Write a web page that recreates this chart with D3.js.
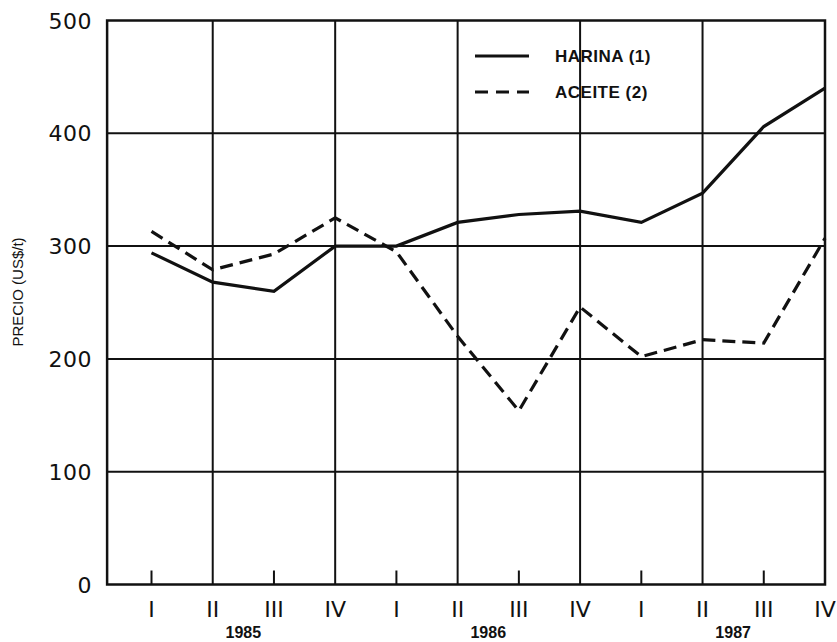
<!DOCTYPE html>
<html>
<head>
<meta charset="utf-8">
<script src="https://cdn.jsdelivr.net/npm/d3@7"></script>
<style>
  html, body { margin: 0; padding: 0; background: #fff; }
  svg { display: block; }
</style>
</head>
<body>
<svg id="chart" width="837" height="642"></svg>
<script>
// ---- data ----
const quarters = ["I", "II", "III", "IV", "I", "II", "III", "IV", "I", "II", "III", "IV"];
const years = ["1985", "1986", "1987"];
const harina = [294, 268, 260, 300, 300, 321, 328, 331, 321, 347, 406, 440];
const aceite = [313, 279, 293, 325, 295, 220, 154, 246, 202, 217, 214, 307];
const yTicks = [0, 100, 200, 300, 400, 500];
const seriesNames = ["HARINA (1)", "ACEITE (2)"];

// ---- layout ----
const svg = d3.select("#chart");
const x = d3.scaleLinear().domain([0, 11]).range([151.5, 825]);
const y = d3.scaleLinear().domain([0, 500]).range([584.5, 20.5]);
const pLeft = x(-0.725), pRight = x(11), pTop = y(500), pBottom = y(0);
const ink = "#111";

// horizontal grid lines
svg.append("g").selectAll("line").data(yTicks.filter(v => v > 0 && v < 500)).join("line")
  .attr("x1", pLeft).attr("x2", pRight).attr("y1", d => y(d)).attr("y2", d => y(d))
  .attr("stroke", ink).attr("stroke-width", 2);

// vertical grid lines at II and IV quarters
svg.append("g").selectAll("line").data(quarters.map((q, i) => i).filter(i => i % 2 === 1 && i < 11)).join("line")
  .attr("x1", d => x(d)).attr("x2", d => x(d)).attr("y1", pTop).attr("y2", pBottom)
  .attr("stroke", ink).attr("stroke-width", 2);

// small ticks at I and III quarters
svg.append("g").selectAll("line").data(quarters.map((q, i) => i).filter(i => i % 2 === 0)).join("line")
  .attr("x1", d => x(d)).attr("x2", d => x(d)).attr("y1", pBottom - 14).attr("y2", pBottom)
  .attr("stroke", ink).attr("stroke-width", 2);

// frame
svg.append("path")
  .attr("d", `M${pLeft},${pBottom}V${pTop}H${pRight}V${pBottom}H${pLeft}Z`)
  .attr("fill", "none").attr("stroke", ink).attr("stroke-width", 2.5);

// y tick labels
svg.append("g").selectAll("text").data(yTicks).join("text")
  .attr("x", 92).attr("y", d => y(d) + 8)
  .attr("text-anchor", "end")
  .attr("font-family", "DejaVu Sans, sans-serif").attr("font-size", 22)
  .attr("letter-spacing", 0.5)
  .attr("fill", ink)
  .text(d => d);

// y title
svg.append("text")
  .attr("transform", `translate(23,292) rotate(-90)`)
  .attr("text-anchor", "middle")
  .attr("font-family", "Liberation Sans, Arial, sans-serif").attr("font-size", 15)
  .attr("fill", ink)
  .text("PRECIO (US$/t)");

// x quarter labels
svg.append("g").selectAll("text").data(quarters).join("text")
  .attr("x", (d, i) => x(i)).attr("y", 617)
  .attr("text-anchor", "middle")
  .attr("font-family", "DejaVu Sans, sans-serif").attr("font-size", 22)
  .attr("fill", ink)
  .text(d => d);

// year labels (centred between II and III of each year)
svg.append("g").selectAll("text").data(years).join("text")
  .attr("x", (d, i) => x(i * 4 + 1.5)).attr("y", 638)
  .attr("text-anchor", "middle")
  .attr("font-family", "Liberation Sans, Arial, sans-serif").attr("font-size", 16)
  .attr("font-weight", "bold")
  .attr("fill", ink)
  .text(d => d);

// lines
const line = d3.line().x((d, i) => x(i)).y(d => y(d));
svg.append("path").datum(harina).attr("d", line)
  .attr("fill", "none").attr("stroke", ink).attr("stroke-width", 3.2)
  .attr("stroke-linejoin", "miter");
svg.append("path").datum(aceite).attr("d", line)
  .attr("fill", "none").attr("stroke", ink).attr("stroke-width", 3.2)
  .attr("stroke-dasharray", "13,7");

// legend
const legend = svg.append("g");
const legY = [56, 92];
legend.selectAll("line").data(seriesNames).join("line")
  .attr("x1", 475).attr("x2", 529).attr("y1", (d, i) => legY[i]).attr("y2", (d, i) => legY[i])
  .attr("stroke", ink).attr("stroke-width", 3.2)
  .attr("stroke-dasharray", (d, i) => i === 1 ? "13,8" : null);
legend.selectAll("text").data(seriesNames).join("text")
  .attr("x", 555).attr("y", (d, i) => legY[i] + 6)
  .attr("font-family", "Liberation Sans, Arial, sans-serif").attr("font-size", 17)
  .attr("font-weight", "bold").attr("letter-spacing", 0.5)
  .attr("fill", ink)
  .text(d => d);
</script>
</body>
</html>
